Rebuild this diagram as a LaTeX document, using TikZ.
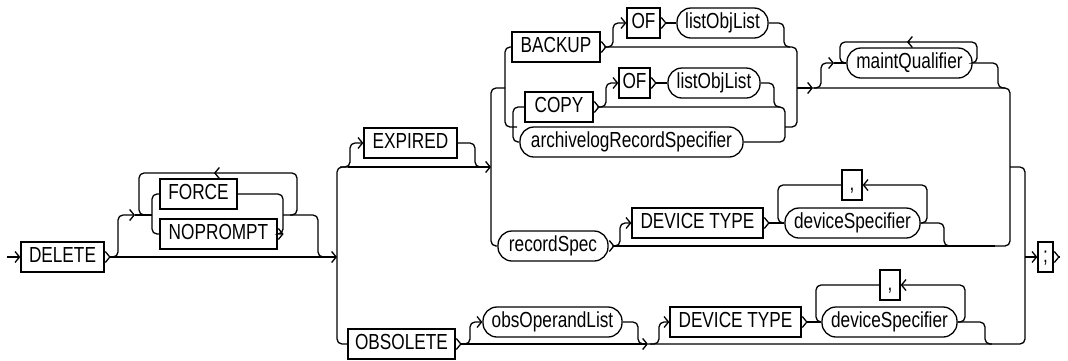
\documentclass[tikz,border=0pt]{standalone}
\usepackage{fontspec}
\newfontfamily\railfont[FakeStretch=0.79]{Liberation Sans}
\usetikzlibrary{arrows.meta}

\tikzset{
  rail/.style={line width=1.3pt,rounded corners=5pt},
  intip/.style={-{Straight Barb[length=4.5pt,width=11pt]}},
  outtip/.style={{Straight Barb[reversed,length=4.5pt,width=11pt]}-},
  bothtip/.style={{Straight Barb[reversed,length=4.5pt,width=11pt]}-{Straight Barb[length=4.5pt,width=11pt]}},
  kw/.style={draw,line width=1.3pt,rectangle,minimum height=30pt,inner xsep=1pt,inner ysep=0pt,
    text height=15.5pt,text depth=4pt,font=\fontsize{21.8}{24}\railfont},
  nt/.style={kw,rounded corners=14pt}
}

\begin{document}
\begin{tikzpicture}[x=1pt,y=-1pt]
\useasboundingbox (0,0) rectangle (1068,360);
\begin{scope}[every path/.style={line width=1.3pt}]
  %boxes
  \node[kw,minimum width=83pt] (Delete) at (62.5,257) {DELETE};
  \node[kw,minimum width=77pt] (Force) at (198.5,194) {FORCE};
  \node[kw,minimum width=117pt] (NoPrompt) at (218.5,234) {NOPROMPT};
  \node[kw,minimum width=93pt] (Expired) at (410.5,143) {EXPIRED};
  \node[kw,minimum width=107pt] (Obsolete) at (401.5,344) {OBSOLETE};
  \node[kw,minimum width=88pt] (Backup) at (556,47) {BACKUP};
  \node[kw,minimum width=33pt] (BackupOf) at (643.5,23) {OF};
  \node[nt,minimum width=91pt] (BackupList) at (722.5,23) {listObjList};
  \node[kw,minimum width=68pt] (Copy) at (559,107) {COPY};
  \node[kw,minimum width=31pt] (CopyOf) at (634.5,83) {OF};
  \node[nt,minimum width=92pt] (CopyList) at (714,83) {listObjList};
  \node[nt,minimum width=223pt] (ArchSpec) at (631.5,142) {archivelogRecordSpecifier};
  \node[nt,minimum width=125pt] (MaintQual) at (909.5,63) {maintQualifier};
  \node[nt,minimum width=110pt] (RecSpec) at (553,246) {recordSpec};
  \node[kw,minimum width=131pt] (RecDevType) at (697.5,223) {DEVICE TYPE};
  \node[nt,minimum width=135pt] (RecDevSpec) at (852.5,223) {deviceSpecifier};
  \node[kw,minimum width=20pt] (RecComma) at (852,185) {,};
  \node[nt,minimum width=139pt] (ObsOpList) at (552.5,322) {obsOperandList};
  \node[kw,minimum width=131pt] (ObsDevType) at (735.5,322) {DEVICE TYPE};
  \node[nt,minimum width=135pt] (ObsDevSpec) at (889.5,322) {deviceSpecifier};
  \node[kw,minimum width=20pt] (ObsComma) at (890,285) {,};
  \node[kw,minimum width=15pt] (Semi) at (1045.5,257) {;};

  %junctions
  \coordinate (Start) at (7,257);
  \coordinate (SplitL) at (337,257);
  \coordinate (SplitE) at (491,167);
  \coordinate (JoinR) at (1010,167);
  \coordinate (JoinEnd) at (1025,257);

  %DELETE
  \draw[rail,intip] (Start) -- (Delete.west);
  \draw[rail,bothtip] (Delete.east) -- (SplitL);
  %FORCE / NOPROMPT loop
  \draw[rail,intip] (111,257) -| (118,215) -- (135,215);
  \draw[rail] (135,215) -- (152,215);
  \draw[rail] (Force.west) -| (152,234) -- (NoPrompt.west);
  \draw[rail] (216,173) -| (139,215) -- (146,215);
  \draw[rail,intip] (290,215) -| (297,173) -- (214,173);
  \draw[rail,outtip] (NoPrompt.east) -| (283,194) -- (Force.east);
  \draw[rail] (283,215) -| (318,257) -- (326,257);

  %EXPIRED / OBSOLETE
  \draw[rail] (350,167) -| (337,344) -- (Obsolete.west);
  \draw[rail,intip] (348,167) -- (SplitE);
  \draw[rail,intip] (340,167) -| (350,143) -- (Expired.west);
  \draw[rail] (Expired.east) -| (475,167) -- (481,167);

  %BACKUP / COPY / archivelog
  \draw[rail] (505,88) -| (SplitE |- RecSpec.west) -- (RecSpec.west);
  \draw[rail] (Backup.west) -| (505,127) -- (517,127);
  \draw[rail] (Copy.west) -| (513,142) -- (ArchSpec.west);
  \draw[rail,outtip] (Backup.east) -| (797,127) -- (785,127);
  \draw[rail,intip] (604,47) -| (613,23) -- (BackupOf.west);
  \draw[rail,outtip] (BackupOf.east) -- (BackupList.west);
  \draw[rail] (BackupList.east) -| (784,47) -- (790,47);
  \draw[rail,outtip] (Copy.east) -| (785,142) -- (ArchSpec.east);
  \draw[rail,intip] (597,107) -| (606,83) -- (CopyOf.west);
  \draw[rail,outtip] (CopyOf.east) -- (CopyList.west);
  \draw[rail] (CopyList.east) -| (774,107) -- (780,107);

  %maintQualifier loop
  \draw[rail,intip] (797,88) -- (813,88);
  \draw[rail] (813,88) -| (JoinR |- RecSpec.east) -- (990,246);
  \draw[rail,intip] (814,88) -| (821,63) -- (834,63);
  \draw[rail] (834,63) -- (MaintQual.west);
  \draw[rail] (910,42) -| (840,63) -- (MaintQual.west);
  \draw[rail,intip] (MaintQual.east) -| (977,42) -- (907,42);
  \draw[rail] (MaintQual.east) -| (998,88) -- (1005,88);

  %recordSpec
  \draw[rail,outtip] (RecSpec.east) -- (995,246);
  \draw[rail,intip] (612,246) -| (620,223) -- (RecDevType.west);
  \draw[rail,outtip] (RecDevType.east) -- (RecDevSpec.west);
  \draw[rail] (RecComma.west) -| (778,223) -- (RecDevSpec.west);
  \draw[rail,intip] (RecDevSpec.east) -| (927,185) -- (RecComma.east);
  \draw[rail] (RecDevSpec.east) -| (944,246) -- (952,246);

  %obsOperandList
  \draw[rail,bothtip] (Obsolete.east) -- (648,344);
  \draw[rail] (648,344) -| (1025,167) -- (JoinR);
  \draw[rail,intip] (460,344) -| (470,322) -- (ObsOpList.west);
  \draw[rail] (ObsOpList.east) -| (638,344) -- (644,344);
  \draw[rail,intip] (650,344) -| (659,322) -- (ObsDevType.west);
  \draw[rail,outtip] (ObsDevType.east) -- (ObsDevSpec.west);
  \draw[rail] (ObsComma.west) -| (816,322) -- (ObsDevSpec.west);
  \draw[rail,intip] (ObsDevSpec.east) -| (965,285) -- (ObsComma.east);
  \draw[rail] (ObsDevSpec.east) -| (985,344) -- (992,344);

  %end
  \draw[rail,intip] (JoinEnd) -- (Semi.west);
  \draw[rail,outtip] (Semi.east) -- ++(5,0);
\end{scope}
\end{tikzpicture}
\end{document}
